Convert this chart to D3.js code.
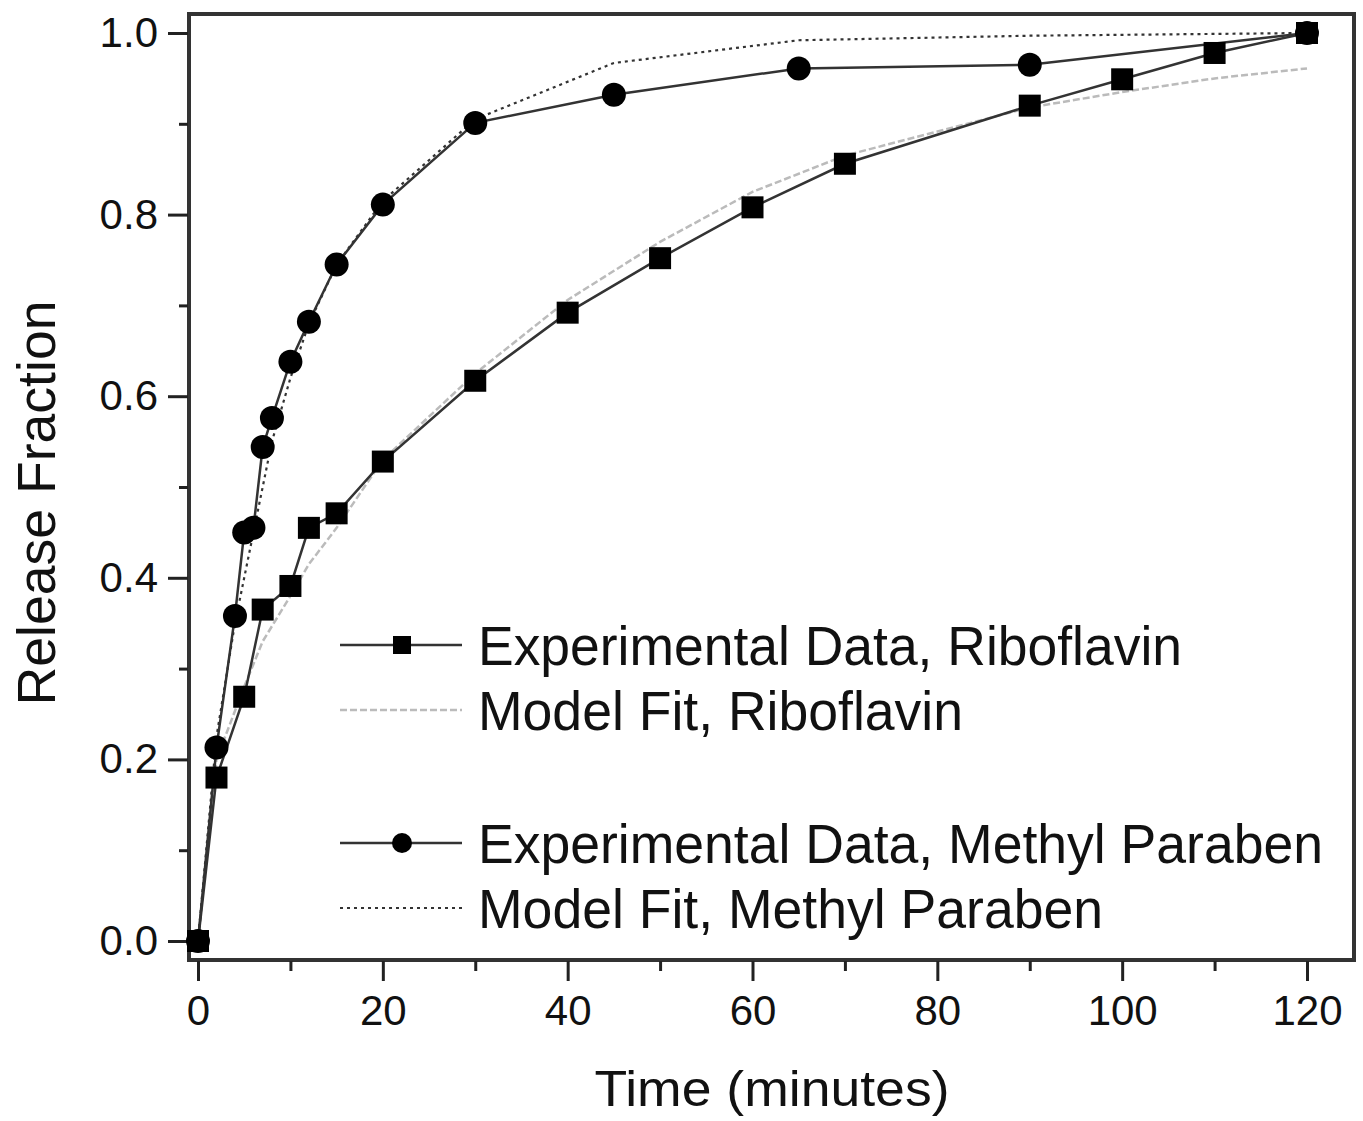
<!DOCTYPE html>
<html>
<head>
<meta charset="utf-8">
<script src="https://cdn.jsdelivr.net/npm/d3@7"></script>
<style>
  body { margin: 0; background: #fff; }
  text { font-family: "Liberation Sans", Arial, sans-serif; fill: #111; }
</style>
</head>
<body>
<div id="chart"></div>
<script>
const WIDTH = 1363;
const HEIGHT = 1121;

// data
var ribTime = [0, 2, 5, 7, 10, 12, 15, 20, 30, 40, 50, 60, 70, 90, 100, 110, 120];
var ribData = [0, 0.18, 0.269, 0.365, 0.391, 0.455, 0.471, 0.528, 0.617, 0.692, 0.752, 0.808, 0.856, 0.92, 0.949, 0.978, 1.0];
var ribFit  = [0, 0.2, 0.28, 0.33, 0.38, 0.415, 0.455, 0.53, 0.625, 0.706, 0.77, 0.825, 0.865, 0.918, 0.935, 0.95, 0.961];

var mpTime = [0, 2, 4, 5, 6, 7, 8, 10, 12, 15, 20, 30, 45, 65, 90, 120];
var mpData = [0, 0.213, 0.358, 0.45, 0.455, 0.544, 0.576, 0.638, 0.682, 0.745, 0.811, 0.901, 0.932, 0.961, 0.965, 1.0];
var mpFit  = [0, 0.225, 0.35, 0.4, 0.45, 0.5, 0.55, 0.62, 0.68, 0.745, 0.815, 0.905, 0.967, 0.992, 0.997, 1.0];

var xMajor = [0, 20, 40, 60, 80, 100, 120];
var xMinor = [10, 30, 50, 70, 90, 110];
var yMajor = [0, 0.2, 0.4, 0.6, 0.8, 1.0];
var yMinor = [0.1, 0.3, 0.5, 0.7, 0.9];

var legendLabels = ["Experimental Data, Riboflavin", "Model Fit, Riboflavin",
                    "Experimental Data, Methyl Paraben", "Model Fit, Methyl Paraben"];

var svg = d3.select("div#chart").append("svg")
    .attr("width", WIDTH)
    .attr("height", HEIGHT);

var x = d3.scaleLinear([0, 120], [198, 1307]);
var y = d3.scaleLinear([0, 1], [941, 33]);

// frame
svg.append("rect")
    .attr("x", 189).attr("y", 14)
    .attr("width", 1165).attr("height", 946)
    .attr("fill", "none")
    .attr("stroke", "#333")
    .attr("stroke-width", 4);

// axes
svg.append("g")
    .attr("transform", "translate(0,961)")
    .call(d3.axisBottom(x).tickValues(xMajor).tickSize(20).tickPadding(14).tickFormat(d3.format("d")));
svg.append("g")
    .attr("transform", "translate(0,961)")
    .call(d3.axisBottom(x).tickValues(xMinor).tickSize(10).tickFormat(""));

svg.append("g")
    .attr("transform", "translate(188,0)")
    .call(d3.axisLeft(y).tickValues(yMajor).tickSize(20).tickPadding(10).tickFormat(d3.format(".1f")));
svg.append("g")
    .attr("transform", "translate(188,0)")
    .call(d3.axisLeft(y).tickValues(yMinor).tickSize(9).tickFormat(""));

svg.selectAll(".domain").remove();
svg.selectAll(".tick line").attr("stroke", "#222").attr("stroke-width", 3);
svg.selectAll(".tick text")
    .style("font-size", "42px")
    .style("font-family", "'Liberation Sans', Arial, sans-serif")
    .attr("fill", "#111");

// axis titles
svg.append("text")
    .attr("x", 772).attr("y", 1106)
    .attr("text-anchor", "middle")
    .style("font-size", "50px")
    .attr("textLength", 355).attr("lengthAdjust", "spacingAndGlyphs")
    .text("Time (minutes)");

svg.append("text")
    .attr("transform", "translate(55,503) rotate(-90)")
    .attr("text-anchor", "middle")
    .style("font-size", "54px")
    .attr("textLength", 405).attr("lengthAdjust", "spacingAndGlyphs")
    .text("Release Fraction");

const lineFunc = d3.line()
    .x(d => x(d[0]))
    .y(d => y(d[1]));

var lines = svg.append("g").attr("fill", "none");

lines.append("path")
    .attr("d", lineFunc(d3.zip(ribTime, ribFit)))
    .attr("stroke", "#bbb").attr("stroke-width", 2.5)
    .attr("stroke-dasharray", "7,3");

lines.append("path")
    .attr("d", lineFunc(d3.zip(mpTime, mpFit)))
    .attr("stroke", "#333").attr("stroke-width", 2.2)
    .attr("stroke-dasharray", "3,4");

lines.append("path")
    .attr("d", lineFunc(d3.zip(ribTime, ribData)))
    .attr("stroke", "#333").attr("stroke-width", 2.5);

lines.append("path")
    .attr("d", lineFunc(d3.zip(mpTime, mpData)))
    .attr("stroke", "#333").attr("stroke-width", 2.5);

// markers
svg.append("g").selectAll("rect")
    .data(d3.zip(ribTime, ribData))
    .join("rect")
    .attr("x", d => x(d[0]) - 11)
    .attr("y", d => y(d[1]) - 11)
    .attr("width", 22).attr("height", 22)
    .attr("fill", "#000");

svg.append("g").selectAll("circle")
    .data(d3.zip(mpTime, mpData))
    .join("circle")
    .attr("cx", d => x(d[0]))
    .attr("cy", d => y(d[1]))
    .attr("r", 12)
    .attr("fill", "#000");

// legend
var legendY = [645, 710, 843, 908];
var legend = svg.append("g");
var styles = [
    { stroke: "#333", dash: null, w: 2.5 },
    { stroke: "#bbb", dash: "7,3", w: 2.5 },
    { stroke: "#333", dash: null, w: 2.5 },
    { stroke: "#333", dash: "3,4", w: 2.2 }
];
var textLen = [704, 485, 845, 625];

legendLabels.forEach((label, i) => {
    legend.append("line")
        .attr("x1", 340).attr("x2", 462)
        .attr("y1", legendY[i]).attr("y2", legendY[i])
        .attr("stroke", styles[i].stroke)
        .attr("stroke-width", styles[i].w)
        .attr("stroke-dasharray", styles[i].dash);
    legend.append("text")
        .attr("x", 478).attr("y", legendY[i] + 20)
        .style("font-size", "55px")
        .attr("textLength", textLen[i]).attr("lengthAdjust", "spacingAndGlyphs")
        .text(label);
});

legend.append("rect")
    .attr("x", 393).attr("y", legendY[0] - 9)
    .attr("width", 18).attr("height", 18)
    .attr("fill", "#000");
legend.append("circle")
    .attr("cx", 402).attr("cy", legendY[2])
    .attr("r", 10)
    .attr("fill", "#000");
</script>
</body>
</html>
